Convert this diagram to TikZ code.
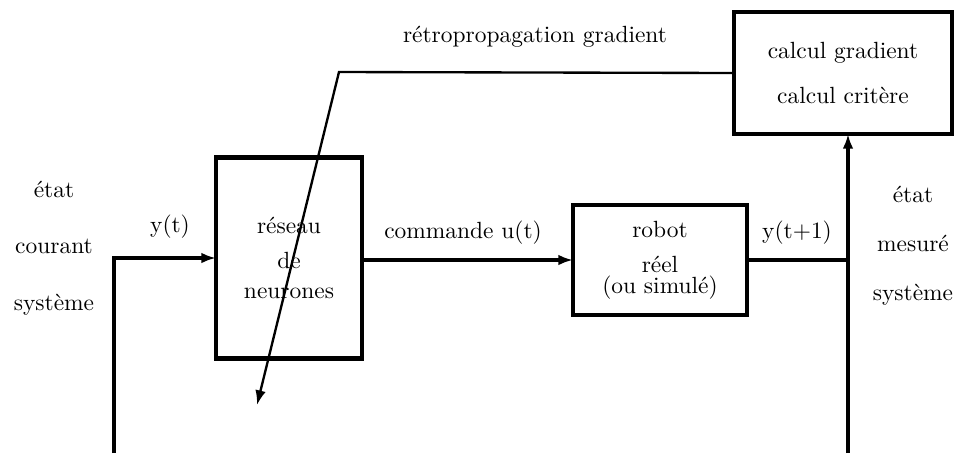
\documentclass[tikz,border=0pt]{standalone}
\usepackage{tikz}
\usetikzlibrary{arrows.meta}

\begin{document}
\begin{tikzpicture}[x=0.015cm,y=-0.015cm,
    >={Latex[length=2.2mm,width=1.6mm]},
    block/.style={draw=black,line width=1.8pt,align=center,inner sep=0pt,outer sep=0pt},
    flow/.style={line width=1.5pt},
    back/.style={line width=1pt},
    lbl/.style={align=center,inner sep=0pt}]
    \useasboundingbox (0,0) rectangle (960,453);

    \node[block,minimum width=2.19cm,minimum height=3.015cm] (reseau) at (289,258) {r\'eseau\\[3pt]de\\[1pt]neurones};
    \node[block,minimum width=2.61cm,minimum height=1.65cm] (robot) at (660,260) {robot\\[3pt]r\'eel\\[-3pt](ou simul\'e)};
    \node[block,minimum width=3.27cm,minimum height=1.83cm] (calcul) at (843,73) {calcul gradient\\[7pt]calcul crit\`ere};

    \node[lbl] (courant) at (54,248) {\'etat\\[12pt]courant\\[12pt]syst\`eme};
    \node[lbl] (mesure) at (913,246) {\'etat\\[9pt]mesur\'e\\[9pt]syst\`eme};
    \node[lbl] (yt) at (170,227) {y(t)};
    \node[lbl] (cmd) at (463,233) {commande u(t)};
    \node[lbl] (yt1) at (797,233) {y(t+1)};
    \node[lbl] (retro) at (535,37) {r\'etropropagation gradient};

    \coordinate (in0) at (114,453);
    \coordinate (out0) at (848,453);
    \coordinate (bend) at (339,72);
    \coordinate (tip) at (257,405);

    \draw[flow,->] (in0) |- (reseau.west);
    \draw[flow,->] (reseau.east |- robot.west) -- (robot.west);
    \draw[flow] (robot.east) -- (robot.east -| out0);
    \draw[flow,->] (out0) -- (out0 |- calcul.south);
    \draw[back,->] (calcul.west) -- (bend) -- (tip);
\end{tikzpicture}
\end{document}
